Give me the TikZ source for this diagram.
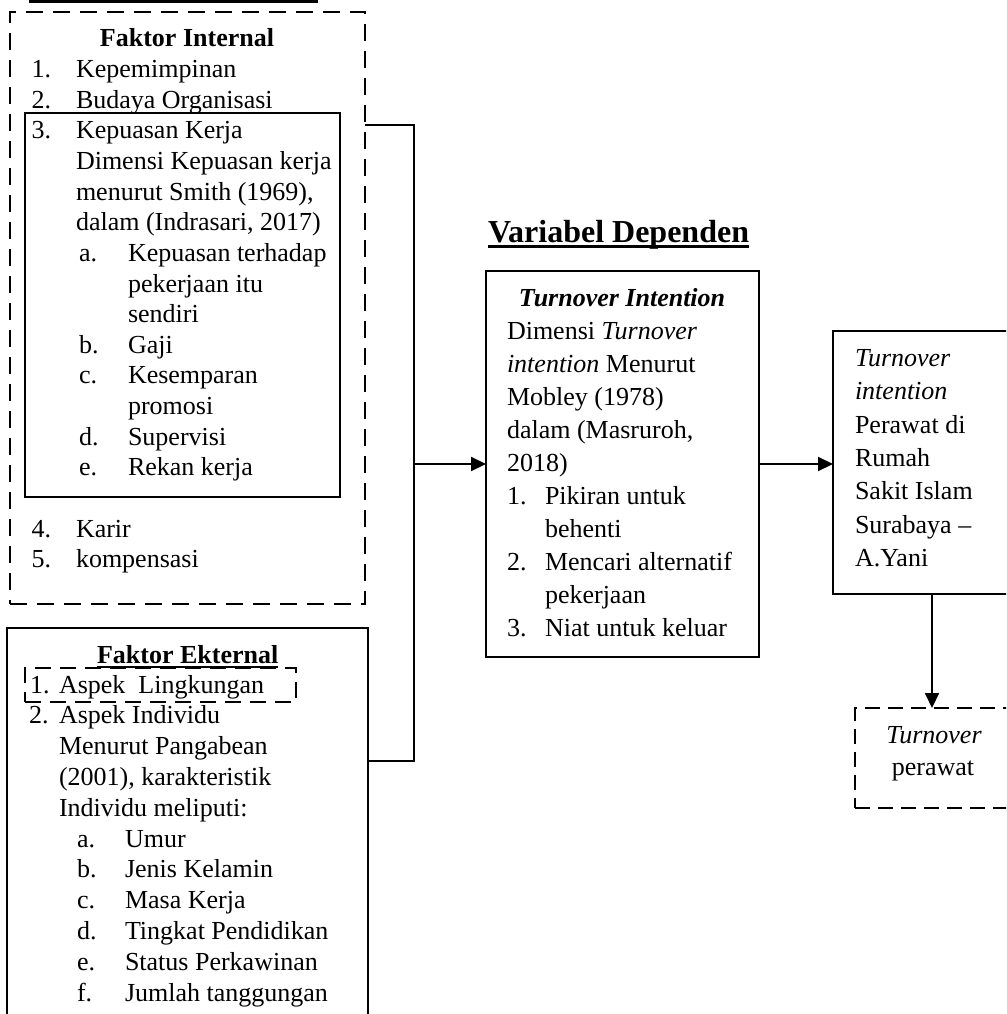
\documentclass[tikz,border=0pt]{standalone}
\usepackage{fontspec}
\setmainfont{Liberation Serif}
\usetikzlibrary{arrows.meta}
\newcommand\myfz{\fontsize{26}{30}\selectfont}
\begin{document}
\begin{tikzpicture}[x=1pt,y=-1pt,
  every node/.style={font=\myfz, inner sep=0pt, outer sep=0pt},
  ln/.style={anchor=base west},
  ctr/.style={anchor=base},
  frame/.style={draw, line width=2.7pt, anchor=north west},
  dframe/.style={frame, dash pattern=on 17pt off 10pt},
  conn/.style={line width=2pt},
  arr/.style={conn, -{Triangle[length=15pt,width=14pt]}}]
\clip (0,0) rectangle (1006,1014);
% underline of heading cut off at top
\fill (29,0) rectangle (318,3.3);
% boxes
\node[dframe, minimum width=355pt, minimum height=592pt] (internal) at (10,12) {};
\node[frame, line width=2.3pt, minimum width=315pt, minimum height=384pt] (inner) at (25,113) {};
\node[frame, minimum width=361pt, minimum height=430pt] (external) at (7,628) {};
\node[frame, line width=2.5pt, dash pattern=on 16pt off 9pt, minimum width=271pt, minimum height=34pt] (aspek) at (25,668) {};
\node[frame, minimum width=273pt, minimum height=386pt] (ti) at (486,271) {};
\node[frame, minimum width=198pt, minimum height=263pt] (rb) at (833,331) {};
\node[frame, line width=2.5pt, dash pattern=on 15pt off 8pt, minimum width=158pt, minimum height=100pt] (tp) at (855,708) {};
% internal text
\node[ctr, font=\myfz\bfseries] (fi) at (187,47) {Faktor Internal};
\node[ln] (n1) at (31.5,78) {1.};
\node[ln] (t1) at (76,78) {Kepemimpinan};
\node[ln] (n2) at (31.5,108.5) {2.};
\node[ln] (t2) at (76,108.5) {Budaya Organisasi};
\node[ln] (n3) at (31.5,139) {3.};
\node[ln] (t3) at (76,139) {Kepuasan Kerja};
\node[ln] (t3b) at (76,169.6) {Dimensi Kepuasan kerja};
\node[ln] (t3c) at (76,200.2) {menurut Smith (1969),};
\node[ln] (t3d) at (76,230.8) {dalam (Indrasari, 2017)};
\node[ln] (la) at (79,261.4) {a.};
\node[ln] (sa) at (128,261.4) {Kepuasan terhadap};
\node[ln] (sa2) at (128,292) {pekerjaan itu};
\node[ln] (sa3) at (128,322.6) {sendiri};
\node[ln] (lb) at (79,353.2) {b.};
\node[ln] (sb) at (128,353.2) {Gaji};
\node[ln] (lc) at (79,383.8) {c.};
\node[ln] (sc) at (128,383.8) {Kesemparan};
\node[ln] (sc2) at (128,414.4) {promosi};
\node[ln] (ld) at (79,445) {d.};
\node[ln] (sd) at (128,445) {Supervisi};
\node[ln] (le) at (79,475.6) {e.};
\node[ln] (se) at (128,475.6) {Rekan kerja};
\node[ln] (n4) at (31.5,537) {4.};
\node[ln] (t4) at (76,537) {Karir};
\node[ln] (n5) at (31.5,567.5) {5.};
\node[ln] (t5) at (76,567.5) {kompensasi};
% external text
\node[ln, font=\myfz\bfseries] (fe) at (97,663) {Faktor Ekternal};
\draw[line width=2pt] ([yshift=-4pt]fe.base west) -- ([yshift=-4pt]fe.base east);
\node[ln] (e1) at (30,693) {1.};
\node[ln] (x1) at (59,693) {Aspek\ \ Lingkungan};
\node[ln] (e2) at (29,723.8) {2.};
\node[ln] (x2) at (59,723.8) {Aspek Individu};
\node[ln] (x2b) at (59,754.6) {Menurut Pangabean};
\node[ln] (x2c) at (59,785.4) {(2001), karakteristik};
\node[ln] (x2d) at (59,816.2) {Individu meliputi:};
\node[ln] (ea) at (77,847) {a.};
\node[ln] (ya) at (125,847) {Umur};
\node[ln] (eb) at (77,877.8) {b.};
\node[ln] (yb) at (125,877.8) {Jenis Kelamin};
\node[ln] (ec) at (77,908.6) {c.};
\node[ln] (yc) at (125,908.6) {Masa Kerja};
\node[ln] (ed) at (77,939.4) {d.};
\node[ln] (yd) at (125,939.4) {Tingkat Pendidikan};
\node[ln] (ee) at (77,970.2) {e.};
\node[ln] (ye) at (125,970.2) {Status Perkawinan};
\node[ln] (ef) at (77,1001) {f.};
\node[ln] (yf) at (125,1001) {Jumlah tanggungan};
% heading
\node[ln, font=\fontsize{32}{36}\selectfont\bfseries] (vd) at (488,242) {Variabel Dependen};
\draw[line width=3pt] ([yshift=-4.5pt]vd.base west) -- ([yshift=-4.5pt]vd.base east);
% turnover intention box text
\node[ctr, font=\myfz\bfseries\itshape] (tih) at (622,306.5) {Turnover Intention};
\node[ln] (m1) at (507,339.5) {Dimensi \textit{Turnover}};
\node[ln] (m2) at (507,372.5) {\textit{intention} Menurut};
\node[ln] (m3) at (507,405.5) {Mobley (1978)};
\node[ln] (m4) at (507,438.5) {dalam (Masruroh,};
\node[ln] (m5) at (507,471.5) {2018)};
\node[ln] (k1) at (507,504.5) {1.};
\node[ln] (p1) at (545,504.5) {Pikiran untuk};
\node[ln] (p1b) at (545,537.5) {behenti};
\node[ln] (k2) at (507,570.5) {2.};
\node[ln] (p2) at (545,570.5) {Mencari alternatif};
\node[ln] (p2b) at (545,603.5) {pekerjaan};
\node[ln] (k3) at (507,636.5) {3.};
\node[ln] (p3) at (545,636.5) {Niat untuk keluar};
% right box text
\node[ln] (r1) at (855,366.5) {\textit{Turnover}};
\node[ln] (r2) at (855,399.8) {\textit{intention}};
\node[ln] (r3) at (855,433.1) {Perawat di};
\node[ln] (r4) at (855,466.4) {Rumah};
\node[ln] (r5) at (855,499.7) {Sakit Islam};
\node[ln] (r6) at (855,533) {Surabaya –};
\node[ln] (r7) at (855,566.3) {A.Yani};
% turnover perawat
\node[ctr] (q1) at (934,743) {\textit{Turnover}};
\node[ctr] (q2) at (933,775) {perawat};
% connectors
\coordinate (j1) at (414,125);
\coordinate (j2) at (414,761);
\draw[conn] (internal.east |- j1) -- (j1) -- (j2) -- (external.east |- j2);
\draw[arr] (j1 |- ti.west) -- (ti.west);
\draw[arr] (ti.east) -- (ti.east -| rb.west);
\draw[arr] (rb.south) -- (rb.south |- tp.north);
\end{tikzpicture}
\end{document}
